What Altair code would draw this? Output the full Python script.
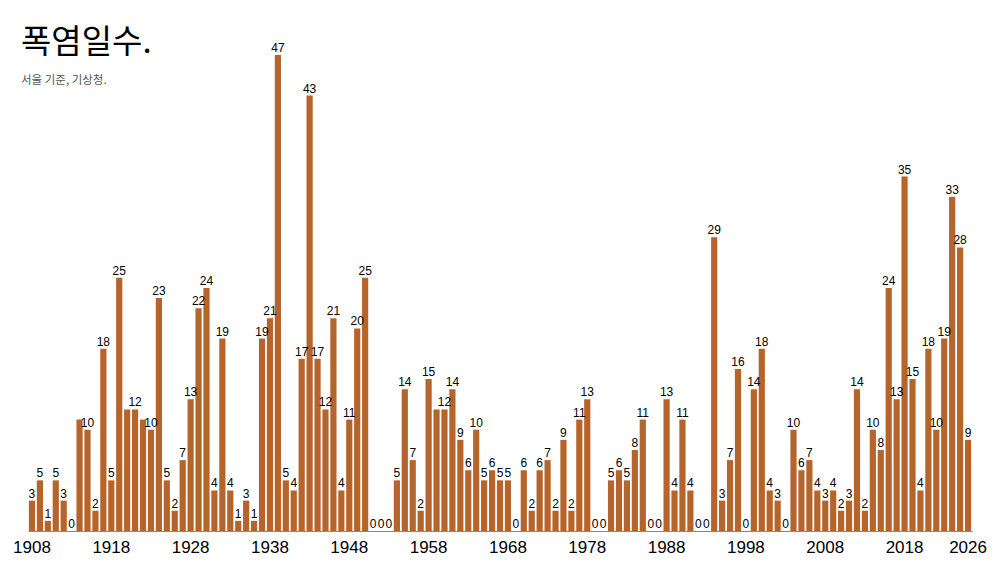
import altair as alt
import pandas as pd

# 서울 폭염일수, 1908-2026
years = list(range(1908, 2027))
days = [
    3, 5, 1, 5, 3, 0, 11, 10, 2, 18,          # 1908-1917
    5, 25, 12, 12, 11, 10, 23, 5, 2, 7,       # 1918-1927
    13, 22, 24, 4, 19, 4, 1, 3, 1, 19,        # 1928-1937
    21, 47, 5, 4, 17, 43, 17, 12, 21, 4,      # 1938-1947
    11, 20, 25, 0, 0, 0, 5, 14, 7, 2,         # 1948-1957
    15, 12, 12, 14, 9, 6, 10, 5, 6, 5,        # 1958-1967
    5, 0, 6, 2, 6, 7, 2, 9, 2, 11,            # 1968-1977
    13, 0, 0, 5, 6, 5, 8, 11, 0, 0,           # 1978-1987
    13, 4, 11, 4, 0, 0, 29, 3, 7, 16,         # 1988-1997
    0, 14, 18, 4, 3, 0, 10, 6, 7, 4,          # 1998-2007
    3, 4, 2, 3, 14, 2, 10, 8, 24, 13,         # 2008-2017
    35, 15, 4, 18, 10, 19, 33, 28, 9,         # 2018-2026
]
# 원본에서 라벨이 겹쳐 보이지 않는 해
hidden_labels = [1914, 1920, 1922, 1959]
tick_years = [1908, 1918, 1928, 1938, 1948, 1958, 1968, 1978, 1988, 1998, 2008, 2018, 2026]

df = pd.DataFrame({"year": years, "days": days})
df["label"] = [("" if y in hidden_labels else str(d)) for y, d in zip(years, days)]

bar_color = "#b5642b"

base = alt.Chart(df).encode(
    x=alt.X(
        "year:O",
        scale=alt.Scale(paddingInner=0.22, paddingOuter=0.11),
        axis=alt.Axis(
            values=tick_years,
            labelAngle=0,
            labelFontSize=17,
            labelColor="#000000",
            labelFont="Liberation Sans",
            labelPadding=8,
            ticks=False,
            tickSize=0,
            domainColor="#888888",
            title=None,
        ),
    ),
    y=alt.Y("days:Q", scale=alt.Scale(domain=[0, 47], nice=False), axis=None),
)

bars = base.mark_bar(color=bar_color)

labels = base.mark_text(
    baseline="alphabetic",
    dy=-3,
    fontSize=12,
    font="Liberation Sans",
    color="#000000",
).encode(text="label:N")

chart = (bars + labels).properties(
    width=944,
    height=476,
    autosize=alt.AutoSizeParams(type="none"),
    padding={"left": 20, "top": 47, "right": 16, "bottom": 24},
    title=alt.Title(
        "폭염일수.",
        subtitle="서울 기준, 기상청.",
        anchor="start",
        frame="group",
        dx=-7,
        offset=-44,
        font="Noto Sans CJK KR",
        fontSize=33,
        fontWeight=400,
        color="#000000",
        subtitleFont="Noto Sans CJK KR",
        subtitleFontSize=11.5,
        subtitleColor="#555555",
        subtitlePadding=15,
    ),
).configure_view(stroke=None)

chart.save("out.html", embed_options={"renderer": "svg", "actions": False})
